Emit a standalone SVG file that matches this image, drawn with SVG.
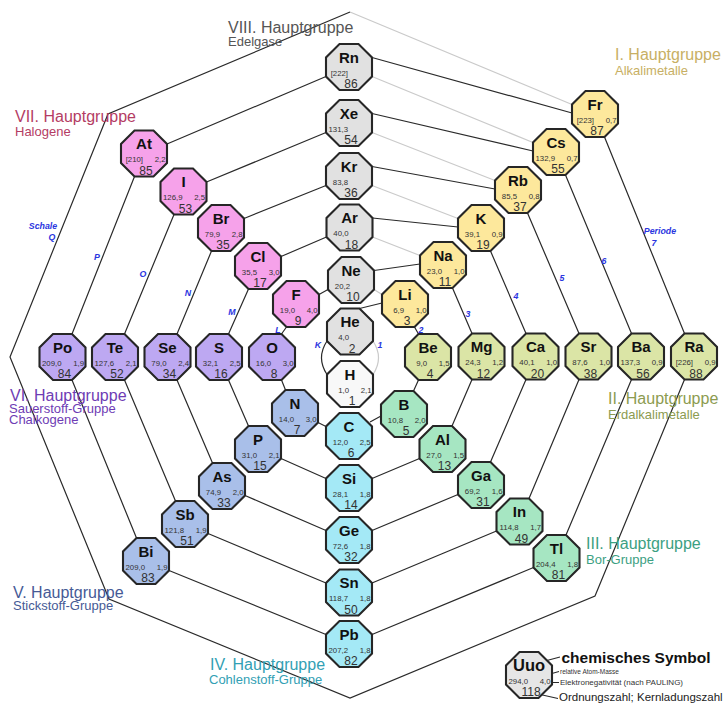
<svg xmlns="http://www.w3.org/2000/svg" xmlns:xlink="http://www.w3.org/1999/xlink" width="725" height="704" viewBox="0 0 725 704">
<style>
text{font-family:"Liberation Sans",Arial,sans-serif}
.o{stroke:#262626;stroke-width:2.1}
.g8{fill:#e1e1e1}.gh{fill:#f8f8f8}.g1{fill:#fde89c}.g2{fill:#dbe5a6}.g3{fill:#a6e6c2}.g4{fill:#a4e9f6}.g5{fill:#a9bfe9}.g6{fill:#bda8f2}.g7{fill:#f6a2ea}.gl{fill:#e6e6e6}
.s{font-size:15px;font-weight:bold;text-anchor:middle;fill:#111}
.m{font-size:7.8px;text-anchor:end;fill:#333}
.z{font-size:12px;text-anchor:middle;fill:#333}
.k{fill:none;stroke:#2a2a2a;stroke-width:1.2}
.w{fill:none;stroke:#cacaca;stroke-width:1.2}
.b{font-size:8.8px;font-weight:bold;font-style:italic;fill:#2a35e0;text-anchor:middle}
.h1{font-size:16px}.h2{font-size:13px}
</style>
<defs>
<polygon id="oct" points="-9.5,-23 9.5,-23 23,-9.5 23,9.5 9.5,23 -9.5,23 -23,9.5 -23,-9.5"/>
</defs>
<g id="connectors">
<path class="w" d="M373,341 Q384,357.75 373,374.5"/>
<path class="w" d="M374,289.5 L382,294.5 M372.5,237 L420,255.5 M372,185.5 L458,218.5 M372,132.5 L495,180.5 M372,76.5 L533,142.5 M350,12 L572,104.5"/>
<path class="k" d="M327,341 Q316,357.75 327,374.5"/>
<path class="k" d="M359.5,308.5 L382,303 M414.5,327 L418.5,334 M418.5,380 L413.5,391 M381,416 L370,422 M326,426.5 L318,422.5 M285.5,390 L281.5,380 M281.5,334 L286.5,327 M319,294.5 L328,289.5 M374,270.5 L420,264"/>
<path class="k" d="M452.5,288 L472,333.5 M472,379.5 L452,426 M419.5,458.5 L372,478.5 M326,478.5 L281,458.5 M248.5,426 L228.5,380 M228.5,334 L248.5,289 M281,256.5 L326.5,237 M372.5,218 L458,227"/>
<path class="k" d="M490.5,251 L526,333.5 M526,379.5 L490.5,462 M458,494.5 L372,530.5 M326,530.5 L245,495.5 M212.5,463 L177,380 M177,334 L211.5,251 M244,218.5 L326,185.5 M372,166.5 L495,189"/>
<path class="k" d="M527.5,213 L579,333.5 M579,379.5 L529,498.5 M496.5,531 L372,583 M326,583 L208,533.5 M175.5,501 L124.5,380 M124.5,334 L174,214.5 M206.5,182 L326,132.5 M372,113.5 L533,151"/>
<path class="k" d="M565.5,175 L631.5,333.5 M631.5,379.5 L566,535 M533.5,567.5 L372,634.5 M326,634.5 L169,570.5 M136.5,538 L72,380 M72,334 L134.5,176.5 M167,144 L326,76.5 M372,57.5 L572,113"/>
<path class="k" d="M604.5,137 L684.5,333.5 M684.5,379.5 L595,596 L350,698 L109,599 L10,357 L108,114 L350,12"/>
<path class="k" d="M545,661 L560,657 M525,681 L559,671.5 M552,682.5 L559,682.5 M538,694 L558,698.5"/>
</g>
<g id="shell-labels">
<text class="b" x="43" y="229">Schale</text>
<text class="b" x="52" y="240">Q</text>
<text class="b" x="97" y="260">P</text>
<text class="b" x="143" y="277">O</text>
<text class="b" x="188" y="296">N</text>
<text class="b" x="232" y="315">M</text>
<text class="b" x="278" y="333">L</text>
<text class="b" x="318" y="348">K</text>
<text class="b" x="380" y="348">1</text>
<text class="b" x="421" y="333">2</text>
<text class="b" x="468" y="317">3</text>
<text class="b" x="516" y="299">4</text>
<text class="b" x="562" y="281">5</text>
<text class="b" x="604" y="264">6</text>
<text class="b" x="660" y="234">Periode</text>
<text class="b" x="654" y="246">7</text>
</g>
<g id="group-labels">
<text class="h1" x="228" y="33" fill="#555555">VIII. Hauptgruppe</text>
<text class="h2" x="228" y="46" fill="#555555">Edelgase</text>
<text class="h1" x="615" y="60" fill="#c8af64">I. Hauptgruppe</text>
<text class="h2" x="615" y="75" fill="#c8af64">Alkalimetalle</text>
<text class="h1" x="15" y="122" fill="#b43c64">VII. Hauptgruppe</text>
<text class="h2" x="15" y="136" fill="#b43c64">Halogene</text>
<text class="h1" x="10" y="401" fill="#6e3cb4">VI. Hauptgruppe</text>
<text class="h2" x="9" y="412.5" fill="#6e3cb4">Sauerstoff-Gruppe</text>
<text class="h2" x="9" y="424" fill="#6e3cb4">Chalkogene</text>
<text class="h1" x="608" y="404" fill="#8c9b50">II. Hauptgruppe</text>
<text class="h2" x="608" y="418.5" fill="#8c9b50">Erdalkalimetalle</text>
<text class="h1" x="586" y="548.5" fill="#3ca082">III. Hauptgruppe</text>
<text class="h2" x="586" y="563.5" fill="#3ca082">Bor-Gruppe</text>
<text class="h1" x="210" y="670" fill="#32a0b4">IV. Hauptgruppe</text>
<text class="h2" x="209" y="683.5" fill="#32a0b4">Cohlenstoff-Gruppe</text>
<text class="h1" x="13" y="597.5" fill="#465a96">V. Hauptgruppe</text>
<text class="h2" x="13" y="610" fill="#465a96">Stickstoff-Gruppe</text>
</g>
<g id="H" transform="translate(350,384)"><use xlink:href="#oct" class="o gh"/><text class="s" y="-4.5">H</text><text class="m" x="-1" y="8.5">1,0</text><text class="m" x="21.5" y="8.5">2,1</text><text class="z" x="2" y="21">1</text></g>
<g id="He" transform="translate(350,331.5)"><use xlink:href="#oct" class="o g8"/><text class="s" y="-4.5">He</text><text class="m" x="-1" y="8.5">4,0</text><text class="z" x="2" y="21">2</text></g>
<g id="Li" transform="translate(405,304)"><use xlink:href="#oct" class="o g1"/><text class="s" y="-4.5">Li</text><text class="m" x="-1" y="8.5">6,9</text><text class="m" x="21.5" y="8.5">1,0</text><text class="z" x="2" y="21">3</text></g>
<g id="Be" transform="translate(428,357)"><use xlink:href="#oct" class="o g2"/><text class="s" y="-4.5">Be</text><text class="m" x="-1" y="8.5">9,0</text><text class="m" x="21.5" y="8.5">1,5</text><text class="z" x="2" y="21">4</text></g>
<g id="B" transform="translate(404,414)"><use xlink:href="#oct" class="o g3"/><text class="s" y="-4.5">B</text><text class="m" x="-1" y="8.5">10,8</text><text class="m" x="21.5" y="8.5">2,0</text><text class="z" x="2" y="21">5</text></g>
<g id="C" transform="translate(349,436)"><use xlink:href="#oct" class="o g4"/><text class="s" y="-4.5">C</text><text class="m" x="-1" y="8.5">12,0</text><text class="m" x="21.5" y="8.5">2,5</text><text class="z" x="2" y="21">6</text></g>
<g id="N" transform="translate(295,413)"><use xlink:href="#oct" class="o g5"/><text class="s" y="-4.5">N</text><text class="m" x="-1" y="8.5">14,0</text><text class="m" x="21.5" y="8.5">3,0</text><text class="z" x="2" y="21">7</text></g>
<g id="O" transform="translate(272,357)"><use xlink:href="#oct" class="o g6"/><text class="s" y="-4.5">O</text><text class="m" x="-1" y="8.5">16,0</text><text class="m" x="21.5" y="8.5">3,0</text><text class="z" x="2" y="21">8</text></g>
<g id="F" transform="translate(296,304)"><use xlink:href="#oct" class="o g7"/><text class="s" y="-4.5">F</text><text class="m" x="-1" y="8.5">19,0</text><text class="m" x="21.5" y="8.5">4,0</text><text class="z" x="2" y="21">9</text></g>
<g id="Ne" transform="translate(351,280)"><use xlink:href="#oct" class="o g8"/><text class="s" y="-4.5">Ne</text><text class="m" x="-1" y="8.5">20,2</text><text class="z" x="2" y="21">10</text></g>
<g id="Na" transform="translate(443,265)"><use xlink:href="#oct" class="o g1"/><text class="s" y="-4.5">Na</text><text class="m" x="-1" y="8.5">23,0</text><text class="m" x="21.5" y="8.5">1,0</text><text class="z" x="2" y="21">11</text></g>
<g id="Mg" transform="translate(481.5,356.5)"><use xlink:href="#oct" class="o g2"/><text class="s" y="-4.5">Mg</text><text class="m" x="-1" y="8.5">24,3</text><text class="m" x="21.5" y="8.5">1,2</text><text class="z" x="2" y="21">12</text></g>
<g id="Al" transform="translate(442.5,449)"><use xlink:href="#oct" class="o g3"/><text class="s" y="-4.5">Al</text><text class="m" x="-1" y="8.5">27,0</text><text class="m" x="21.5" y="8.5">1,5</text><text class="z" x="2" y="21">13</text></g>
<g id="Si" transform="translate(349,488)"><use xlink:href="#oct" class="o g4"/><text class="s" y="-4.5">Si</text><text class="m" x="-1" y="8.5">28,1</text><text class="m" x="21.5" y="8.5">1,8</text><text class="z" x="2" y="21">14</text></g>
<g id="P" transform="translate(258,449)"><use xlink:href="#oct" class="o g5"/><text class="s" y="-4.5">P</text><text class="m" x="-1" y="8.5">31,0</text><text class="m" x="21.5" y="8.5">2,1</text><text class="z" x="2" y="21">15</text></g>
<g id="S" transform="translate(219,357)"><use xlink:href="#oct" class="o g6"/><text class="s" y="-4.5">S</text><text class="m" x="-1" y="8.5">32,1</text><text class="m" x="21.5" y="8.5">2,5</text><text class="z" x="2" y="21">16</text></g>
<g id="Cl" transform="translate(258,266)"><use xlink:href="#oct" class="o g7"/><text class="s" y="-4.5">Cl</text><text class="m" x="-1" y="8.5">35,5</text><text class="m" x="21.5" y="8.5">3,0</text><text class="z" x="2" y="21">17</text></g>
<g id="Ar" transform="translate(349.5,227.5)"><use xlink:href="#oct" class="o g8"/><text class="s" y="-4.5">Ar</text><text class="m" x="-1" y="8.5">40,0</text><text class="z" x="2" y="21">18</text></g>
<g id="K" transform="translate(481,228)"><use xlink:href="#oct" class="o g1"/><text class="s" y="-4.5">K</text><text class="m" x="-1" y="8.5">39,1</text><text class="m" x="21.5" y="8.5">0,9</text><text class="z" x="2" y="21">19</text></g>
<g id="Ca" transform="translate(535.5,356.5)"><use xlink:href="#oct" class="o g2"/><text class="s" y="-4.5">Ca</text><text class="m" x="-1" y="8.5">40,1</text><text class="m" x="21.5" y="8.5">1,0</text><text class="z" x="2" y="21">20</text></g>
<g id="Ga" transform="translate(481,485)"><use xlink:href="#oct" class="o g3"/><text class="s" y="-4.5">Ga</text><text class="m" x="-1" y="8.5">69,2</text><text class="m" x="21.5" y="8.5">1,6</text><text class="z" x="2" y="21">31</text></g>
<g id="Ge" transform="translate(349,540)"><use xlink:href="#oct" class="o g4"/><text class="s" y="-4.5">Ge</text><text class="m" x="-1" y="8.5">72,6</text><text class="m" x="21.5" y="8.5">1,8</text><text class="z" x="2" y="21">32</text></g>
<g id="As" transform="translate(222,486)"><use xlink:href="#oct" class="o g5"/><text class="s" y="-4.5">As</text><text class="m" x="-1" y="8.5">74,9</text><text class="m" x="21.5" y="8.5">2,0</text><text class="z" x="2" y="21">33</text></g>
<g id="Se" transform="translate(167.5,357)"><use xlink:href="#oct" class="o g6"/><text class="s" y="-4.5">Se</text><text class="m" x="-1" y="8.5">79,0</text><text class="m" x="21.5" y="8.5">2,4</text><text class="z" x="2" y="21">34</text></g>
<g id="Br" transform="translate(221,228)"><use xlink:href="#oct" class="o g7"/><text class="s" y="-4.5">Br</text><text class="m" x="-1" y="8.5">79,9</text><text class="m" x="21.5" y="8.5">2,8</text><text class="z" x="2" y="21">35</text></g>
<g id="Kr" transform="translate(349,176)"><use xlink:href="#oct" class="o g8"/><text class="s" y="-4.5">Kr</text><text class="m" x="-1" y="8.5">83,8</text><text class="z" x="2" y="21">36</text></g>
<g id="Rb" transform="translate(518,190)"><use xlink:href="#oct" class="o g1"/><text class="s" y="-4.5">Rb</text><text class="m" x="-1" y="8.5">85,5</text><text class="m" x="21.5" y="8.5">0,8</text><text class="z" x="2" y="21">37</text></g>
<g id="Sr" transform="translate(588.5,356.5)"><use xlink:href="#oct" class="o g2"/><text class="s" y="-4.5">Sr</text><text class="m" x="-1" y="8.5">87,6</text><text class="m" x="21.5" y="8.5">1,0</text><text class="z" x="2" y="21">38</text></g>
<g id="In" transform="translate(519.5,521.5)"><use xlink:href="#oct" class="o g3"/><text class="s" y="-4.5">In</text><text class="m" x="-1" y="8.5">114,8</text><text class="m" x="21.5" y="8.5">1,7</text><text class="z" x="2" y="21">49</text></g>
<g id="Sn" transform="translate(349,592.5)"><use xlink:href="#oct" class="o g4"/><text class="s" y="-4.5">Sn</text><text class="m" x="-1" y="8.5">118,7</text><text class="m" x="21.5" y="8.5">1,8</text><text class="z" x="2" y="21">50</text></g>
<g id="Sb" transform="translate(185,524)"><use xlink:href="#oct" class="o g5"/><text class="s" y="-4.5">Sb</text><text class="m" x="-1" y="8.5">121,8</text><text class="m" x="21.5" y="8.5">1,9</text><text class="z" x="2" y="21">51</text></g>
<g id="Te" transform="translate(115,357)"><use xlink:href="#oct" class="o g6"/><text class="s" y="-4.5">Te</text><text class="m" x="-1" y="8.5">127,6</text><text class="m" x="21.5" y="8.5">2,1</text><text class="z" x="2" y="21">52</text></g>
<g id="I" transform="translate(183.5,191.5)"><use xlink:href="#oct" class="o g7"/><text class="s" y="-4.5">I</text><text class="m" x="-1" y="8.5">126,9</text><text class="m" x="21.5" y="8.5">2,5</text><text class="z" x="2" y="21">53</text></g>
<g id="Xe" transform="translate(349,123)"><use xlink:href="#oct" class="o g8"/><text class="s" y="-4.5">Xe</text><text class="m" x="-1" y="8.5">131,3</text><text class="z" x="2" y="21">54</text></g>
<g id="Cs" transform="translate(556,152)"><use xlink:href="#oct" class="o g1"/><text class="s" y="-4.5">Cs</text><text class="m" x="-1" y="8.5">132,9</text><text class="m" x="21.5" y="8.5">0,7</text><text class="z" x="2" y="21">55</text></g>
<g id="Ba" transform="translate(641,356.5)"><use xlink:href="#oct" class="o g2"/><text class="s" y="-4.5">Ba</text><text class="m" x="-1" y="8.5">137,3</text><text class="m" x="21.5" y="8.5">0,9</text><text class="z" x="2" y="21">56</text></g>
<g id="Tl" transform="translate(556.5,558)"><use xlink:href="#oct" class="o g3"/><text class="s" y="-4.5">Tl</text><text class="m" x="-1" y="8.5">204,4</text><text class="m" x="21.5" y="8.5">1,8</text><text class="z" x="2" y="21">81</text></g>
<g id="Pb" transform="translate(349,644)"><use xlink:href="#oct" class="o g4"/><text class="s" y="-4.5">Pb</text><text class="m" x="-1" y="8.5">207,2</text><text class="m" x="21.5" y="8.5">1,8</text><text class="z" x="2" y="21">82</text></g>
<g id="Bi" transform="translate(146,561)"><use xlink:href="#oct" class="o g5"/><text class="s" y="-4.5">Bi</text><text class="m" x="-1" y="8.5">209,0</text><text class="m" x="21.5" y="8.5">1,9</text><text class="z" x="2" y="21">83</text></g>
<g id="Po" transform="translate(62.5,357)"><use xlink:href="#oct" class="o g6"/><text class="s" y="-4.5">Po</text><text class="m" x="-1" y="8.5">209,0</text><text class="m" x="21.5" y="8.5">1,9</text><text class="z" x="2" y="21">84</text></g>
<g id="At" transform="translate(144,153.5)"><use xlink:href="#oct" class="o g7"/><text class="s" y="-4.5">At</text><text class="m" x="-1" y="8.5">[210]</text><text class="m" x="21.5" y="8.5">2,2</text><text class="z" x="2" y="21">85</text></g>
<g id="Rn" transform="translate(349,67)"><use xlink:href="#oct" class="o g8"/><text class="s" y="-4.5">Rn</text><text class="m" x="-1" y="8.5">[222]</text><text class="z" x="2" y="21">86</text></g>
<g id="Fr" transform="translate(595,114)"><use xlink:href="#oct" class="o g1"/><text class="s" y="-4.5">Fr</text><text class="m" x="-1" y="8.5">[223]</text><text class="m" x="21.5" y="8.5">0,7</text><text class="z" x="2" y="21">87</text></g>
<g id="Ra" transform="translate(694,356.5)"><use xlink:href="#oct" class="o g2"/><text class="s" y="-4.5">Ra</text><text class="m" x="-1" y="8.5">[226]</text><text class="m" x="21.5" y="8.5">0,9</text><text class="z" x="2" y="21">88</text></g>
<g id="legend">
<g id="Uuo" transform="translate(529,675)"><use xlink:href="#oct" class="o gl"/><text class="s" y="-4.5" style="font-size:16.5px">Uuo</text><text class="m" x="-1" y="8.5">294,0</text><text class="m" x="21.5" y="8.5">4,0</text><text class="z" x="2" y="21">118</text></g>
<text x="561.5" y="663" style="font-size:15.5px;font-weight:bold" fill="#111">chemisches Symbol</text>
<text x="560" y="674" style="font-size:6.5px" fill="#333">relative Atom-Masse</text>
<text x="560" y="685" style="font-size:8px" fill="#333">Elektronegativität (nach PAULING)</text>
<text x="559" y="701" style="font-size:11.5px" fill="#222">Ordnungszahl; Kernladungszahl</text>
</g>
</svg>
